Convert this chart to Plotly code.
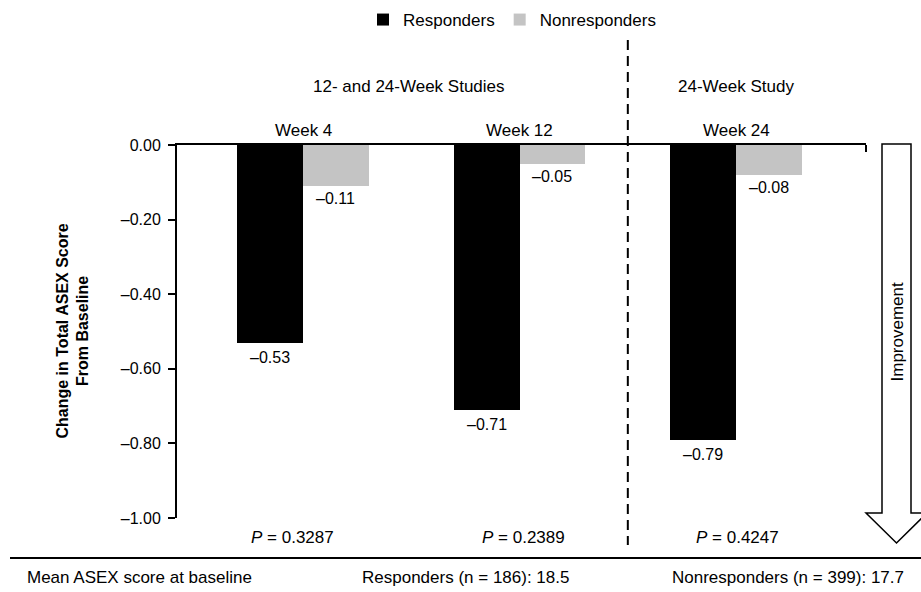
import plotly.graph_objects as go

# ---- data ----
weeks = ["Week 4", "Week 12", "Week 24"]
responders = [-0.53, -0.71, -0.79]
nonresponders = [-0.11, -0.05, -0.08]
p_values = ["0.3287", "0.2389", "0.4247"]
study_groups = ["12- and 24-Week Studies", "24-Week Study"]
baseline_texts = ["Mean ASEX score at baseline",
                  "Responders (n = 186): 18.5",
                  "Nonresponders (n = 399): 17.7"]
y_ticks = [0.0, -0.2, -0.4, -0.6, -0.8, -1.0]

FONT = "Liberation Sans, Arial, sans-serif"
BLACK = "#000000"
GRAY = "#c4c4c4"


def fmt(v):
    s = f"{abs(v):.2f}"
    return ("\u2013" + s) if v < 0 else s


xs = list(range(len(weeks)))
W = 0.304

fig = go.Figure()
fig.add_trace(go.Bar(x=xs, y=responders, name="Responders", marker_color=BLACK,
                     width=W, offset=-W, marker_line_width=0))
fig.add_trace(go.Bar(x=xs, y=nonresponders, name="Nonresponders", marker_color=GRAY,
                     width=W, offset=0, marker_line_width=0))


def px(x):
    return (x - 177) / 689


def py(y):
    return (518 - y) / 373


ann = []
# value labels
for i, v in enumerate(responders):
    ann.append(dict(x=i - W / 2, y=v, xref="x", yref="y", text=fmt(v), showarrow=False,
                    xanchor="center", yanchor="top", yshift=-4, font=dict(size=16)))
for i, v in enumerate(nonresponders):
    ann.append(dict(x=i + W / 2, y=v, xref="x", yref="y", text=fmt(v), showarrow=False,
                    xanchor="center", yanchor="top", yshift=-2, font=dict(size=16)))
# P values
p_shift = [-11, 4, 1]
for i, p in enumerate(p_values):
    ann.append(dict(x=i, y=py(537), xref="x", yref="paper", text=f"<i>P</i> = {p}",
                    showarrow=False, xanchor="center", yanchor="middle",
                    xshift=p_shift[i], font=dict(size=17)))
# study group headers
ann.append(dict(x=0.49, y=py(87), xref="x", yref="paper", text=study_groups[0],
                showarrow=False, xanchor="center", yanchor="middle", font=dict(size=17)))
ann.append(dict(x=2.0, y=py(87), xref="x", yref="paper", text=study_groups[1],
                showarrow=False, xanchor="center", yanchor="middle", font=dict(size=17)))
# week labels
for i, w in enumerate(weeks):
    ann.append(dict(x=i, y=py(130), xref="x", yref="paper", text=w, showarrow=False,
                    xanchor="center", yanchor="middle", font=dict(size=17)))
# y title
ann.append(dict(x=px(72), y=0.5, xref="paper", yref="paper",
                text="<b>Change in Total ASEX Score<br>From Baseline</b>",
                textangle=-90, showarrow=False, xanchor="center", yanchor="middle",
                font=dict(size=16)))
# baseline row
ann.append(dict(x=px(25), y=py(577), xref="paper", yref="paper", text=baseline_texts[0],
                xanchor="left", yanchor="middle", showarrow=False, font=dict(size=17)))
ann.append(dict(x=px(465), y=py(577), xref="paper", yref="paper", text=baseline_texts[1],
                xanchor="center", yanchor="middle", showarrow=False, font=dict(size=17)))
ann.append(dict(x=px(788), y=py(577), xref="paper", yref="paper", text=baseline_texts[2],
                xanchor="center", yanchor="middle", showarrow=False, font=dict(size=17)))
# improvement label
ann.append(dict(x=px(896.5), y=py(332), xref="paper", yref="paper", text="Improvement",
                textangle=-90, showarrow=False, xanchor="center", yanchor="middle",
                font=dict(size=17)))

arrow = (f"M {px(882)},{py(144)} L {px(911)},{py(144)} L {px(911)},{py(513)} "
         f"L {px(927)},{py(513)} L {px(896.5)},{py(543)} L {px(866)},{py(513)} "
         f"L {px(882)},{py(513)} Z")

shapes = [
    # dashed divider
    dict(type="line", xref="x", yref="paper", x0=1.5, x1=1.5, y0=py(40), y1=py(545),
         line=dict(color=BLACK, width=2, dash="10px,6px")),
    # top axis right end tick
    dict(type="line", xref="paper", yref="paper", x0=1, x1=1, y0=1, y1=py(152),
         line=dict(color=BLACK, width=2)),
    # bottom separator
    dict(type="line", xref="paper", yref="paper", x0=px(10), x1=px(921), y0=py(558), y1=py(558),
         line=dict(color=BLACK, width=2)),
    # arrow
    dict(type="path", xref="paper", yref="paper", path=arrow, layer="below",
         line=dict(color=BLACK, width=1.5), fillcolor="white"),
]

fig.update_layout(
    width=921, height=592,
    margin=dict(l=177, r=55, t=145, b=74, autoexpand=False),
    paper_bgcolor="white", plot_bgcolor="rgba(0,0,0,0)",
    font=dict(family=FONT, size=16, color=BLACK),
    showlegend=True,
    legend=dict(orientation="h", x=px(512), y=py(20), xanchor="center", yanchor="middle",
                font=dict(size=17), traceorder="normal", bgcolor="rgba(0,0,0,0)"),
    xaxis=dict(range=[-0.582, 2.600], showgrid=False, zeroline=False, showline=True,
               linecolor=BLACK, linewidth=2, side="top", showticklabels=False, ticks="",
               fixedrange=True),
    yaxis=dict(range=[-1.0, 0.0], tickvals=y_ticks,
               ticktext=[fmt(v) if v != 0 else "0.00" for v in y_ticks],
               showgrid=False, zeroline=False, showline=True, linecolor=BLACK, linewidth=2,
               ticks="outside", ticklen=7, tickwidth=2, tickcolor=BLACK,
               tickfont=dict(size=16), ticklabelstandoff=4),
    annotations=ann,
    shapes=shapes,
    bargap=0,
)

fig.write_html("out.html", config={"displayModeBar": False},
               post_script="document.body.style.margin='0';document.body.style.overflow='hidden';")
